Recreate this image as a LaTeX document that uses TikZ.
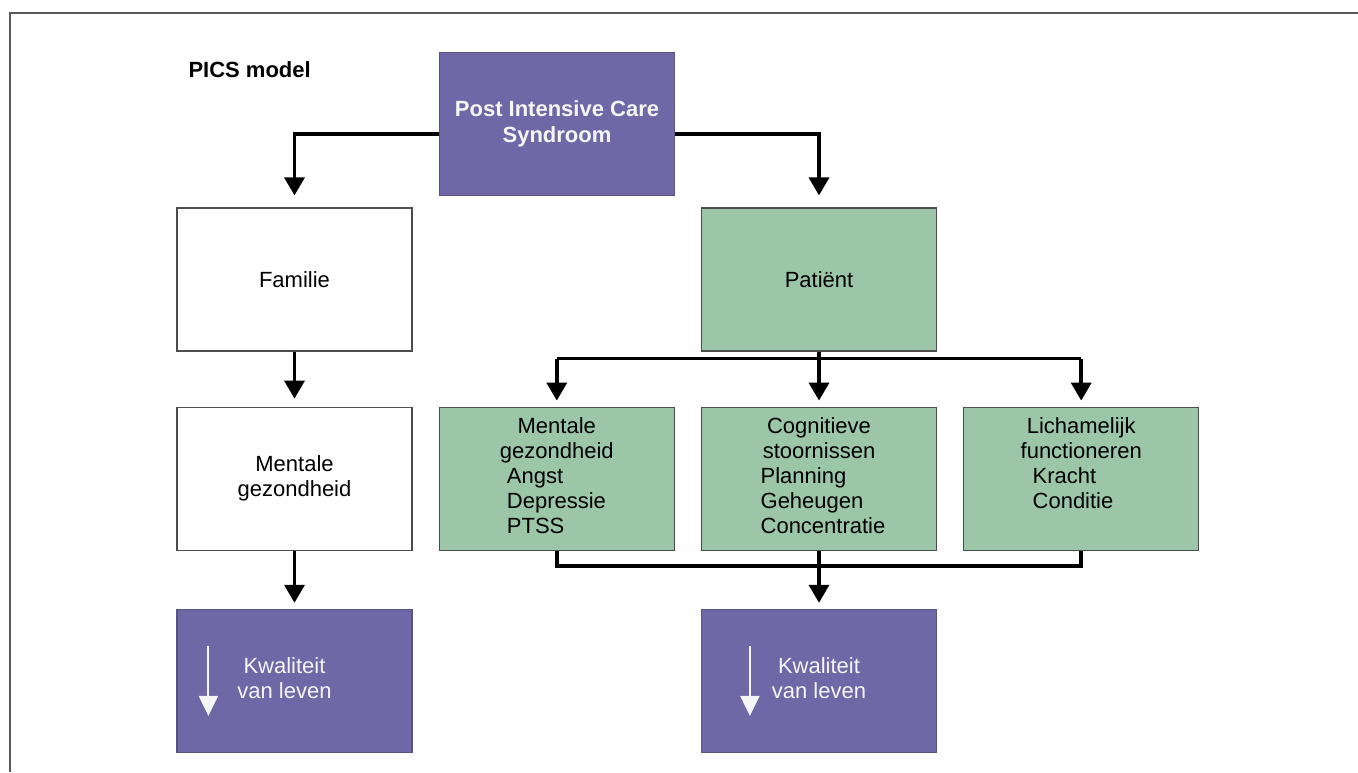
\documentclass[tikz,border=0pt]{standalone}
\usepackage{fontspec}
\setmainfont{Liberation Sans}
\usetikzlibrary{positioning,calc,arrows.meta}
\definecolor{picspurple}{RGB}{111,103,166}
\definecolor{picsgreen}{RGB}{156,198,168}
\tikzset{
    box/.style = {
        draw = black!70,
        line width = 1.2pt,
        minimum width = 235pt,
        minimum height = 143pt,
        inner sep = 2pt,
        font = \fontsize{22}{25}\selectfont,
        },
    purple box/.style = {
        box,
        fill = picspurple,
        draw = picspurple!80!black,
        text = white!92!gray,
        },
    green box/.style = {
        box,
        fill = picsgreen,
        },
    white box/.style = {
        box,
        fill = white,
        },
    link/.style = {
        draw = black,
        line width = 3.5pt,
        },
    link arrow/.style = {
        link,
        -{Triangle[length=18pt,width=20pt]},
        },
    down arrow/.style = {
        draw = white!92!gray,
        line width = 2pt,
        -{Triangle[length=20pt,width=19pt]},
        },
    frame line/.style = {
        draw = black!65,
        line width = 2pt,
        },
}

\begin{document}
\begin{tikzpicture}[x=1pt,y=-1pt]
            \useasboundingbox (0,0) rectangle (1358,772);
            \draw[frame line] (10,772) -- (10,13) -- (1358,13);

            \node[anchor=west, font=\fontsize{22}{25}\selectfont\bfseries] (title) at (185,70) {PICS model};
            \node[purple box, align=center, font=\fontsize{22}{26}\selectfont\bfseries] (pics) at (557,124) {Post Intensive Care\\Syndroom};

            \node[white box] (familie) at (294.5,279.5) {Familie};
            \node[green box] (patient) at (819,279.5) {Patiënt};
            \node[white box, align=center, below=55pt of familie] (mentaal) {Mentale\\gezondheid};

            \node[green box, below=55pt of patient] (cog) {\begin{tabular}{@{}c@{}}
                Cognitieve\\ stoornissen\\ \hspace*{8pt}Planning\hfill\null\\ \hspace*{8pt}Geheugen\hfill\null\\ \hspace*{8pt}Concentratie\hfill\null
                \end{tabular}};
            \node[green box, left=26pt of cog] (ment) {\begin{tabular}{@{}c@{}}
                Mentale\\ gezondheid\\ \hspace*{7pt}Angst\hfill\null\\ \hspace*{7pt}Depressie\hfill\null\\ \hspace*{7pt}PTSS\hfill\null
                \end{tabular}};
            \node[green box, right=26pt of cog] (lich) {\begin{tabular}{@{}c@{}}
                Lichamelijk\\ functioneren\\ \hspace*{12pt}Kracht\hfill\null\\ \hspace*{12pt}Conditie\hfill\null\\ \mbox{}
                \end{tabular}};

            \node[purple box, below=58pt of mentaal] (kwal1) {\begin{tabular}{@{}c@{}}Kwaliteit\\van leven\end{tabular}\hspace*{20pt}};
            \node[purple box, below=58pt of cog] (kwal2) {\begin{tabular}{@{}c@{}}Kwaliteit\\van leven\end{tabular}};

            % split from the syndrome
            \draw[link arrow, shorten >=12pt] ([yshift=-10pt]pics.west) -| (familie.north);
            \draw[link arrow, shorten >=12pt] ([yshift=-10pt]pics.east) -| (patient.north);
            \draw[link arrow, shorten >=8pt] (familie.south) -- (mentaal.north);
            \draw[link arrow, shorten >=6pt] (mentaal.south) -- (kwal1.north);

            % patient to the three domains
            \coordinate (split) at ($(patient.south)+(0,7)$);
            \draw[link] (patient.south) -- (split);
            \draw[link] (ment.north |- split) -- (lich.north |- split);
            \foreach \n in {ment,cog,lich}
                \draw[link arrow, shorten >=6pt] (\n.north |- split) -- (\n.north);

            % domains back to quality of life
            \coordinate (merge) at ($(cog.south)+(0,15)$);
            \draw[link] (ment.south) -- (ment.south |- merge) -- (lich.south |- merge) -- (lich.south);
            \draw[link arrow, shorten >=6pt] (cog.south) -- (kwal2.north);

            % arrows inside the quality boxes
            \draw[down arrow] ($(kwal1.west)+(32,-35)$) -- ($(kwal1.west)+(32,35)$);
            \draw[down arrow] ($(kwal2.west)+(49,-35)$) -- ($(kwal2.west)+(49,35)$);
        \end{tikzpicture}
\end{document}
